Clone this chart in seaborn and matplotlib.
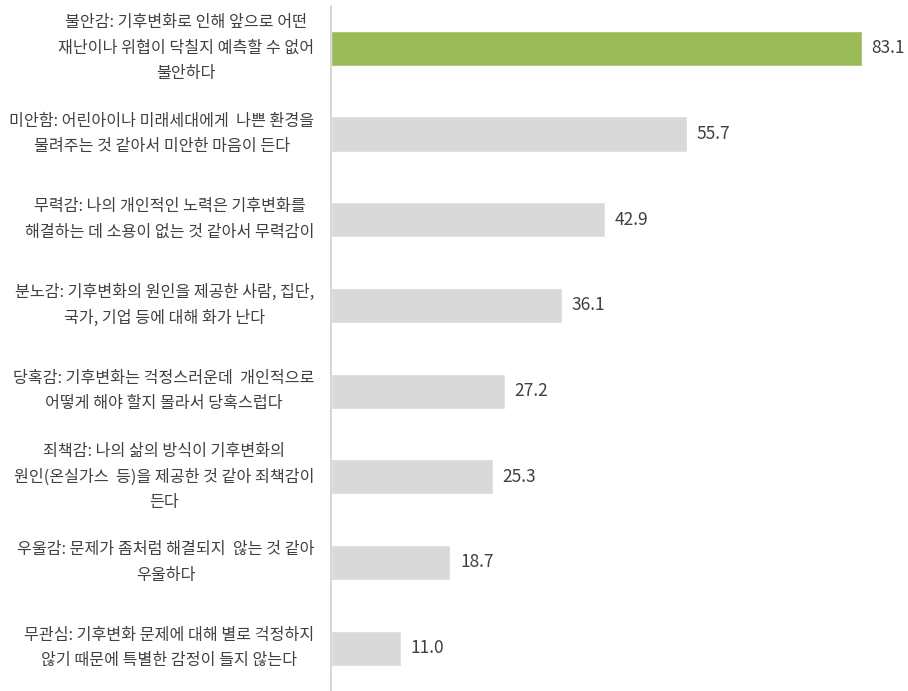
import matplotlib
matplotlib.use("Agg")
import matplotlib.pyplot as plt
import pandas as pd
import seaborn as sns

# Climate-change emotions survey (%)
labels = [
    "불안감: 기후변화로 인해 앞으로 어떤\n재난이나 위협이 닥칠지 예측할 수 없어\n불안하다",
    "미안함: 어린아이나 미래세대에게  나쁜 환경을\n물려주는 것 같아서 미안한 마음이 든다",
    "무력감: 나의 개인적인 노력은 기후변화를\n해결하는 데 소용이 없는 것 같아서 무력감이",
    "분노감: 기후변화의 원인을 제공한 사람, 집단,\n국가, 기업 등에 대해 화가 난다",
    "당혹감: 기후변화는 걱정스러운데  개인적으로\n어떻게 해야 할지 몰라서 당혹스럽다",
    "죄책감: 나의 삶의 방식이 기후변화의\n원인(온실가스  등)을 제공한 것 같아 죄책감이\n든다",
    "우울감: 문제가 좀처럼 해결되지  않는 것 같아\n우울하다",
    "무관심: 기후변화 문제에 대해 별로 걱정하지\n않기 때문에 특별한 감정이 들지 않는다",
]
values = [83.1, 55.7, 42.9, 36.1, 27.2, 25.3, 18.7, 11.0]
highlight = [True, False, False, False, False, False, False, False]

GREEN = "#9BBB59"
GREY = "#D9D9D9"
TEXT = "#404040"

sns.set_style("white")
plt.rcParams["font.family"] = ["Noto Sans CJK KR", "DejaVu Sans"]

df = pd.DataFrame({"label": labels, "value": values, "hl": highlight})
palette = [GREEN if h else GREY for h in highlight]

fig = plt.figure(figsize=(9.08, 6.91), dpi=100)
ax = fig.add_axes([331 / 908, 0.0, 575 / 908, 1 - 5.5 / 691])

sns.barplot(
    data=df, x="value", y="label", hue="label", palette=palette,
    legend=False, width=0.41, ax=ax, saturation=1,
)

ax.set_xlim(0, 90)
ax.set_ylim(7.5, -0.5)
ax.set_xlabel("")
ax.set_ylabel("")
ax.set_xticks([])

for s in ["top", "right", "bottom"]:
    ax.spines[s].set_visible(False)
ax.spines["left"].set_color("#D0D0D0")
ax.spines["left"].set_linewidth(1.2)

ax.tick_params(axis="y", length=0, pad=12)
ax.set_yticks(range(len(labels)))
ax.set_yticklabels(labels, fontsize=11.6, color=TEXT, linespacing=1.66,
                   multialignment="center")
for t in ax.get_yticklabels():
    t.set_va("center")

for i, v in enumerate(values):
    ax.text(v + 1.5, i, f"{v:.1f}", va="center", ha="left",
            fontsize=12.5, color=TEXT)

fig.savefig("out.png", dpi=100)
plt.close(fig)
